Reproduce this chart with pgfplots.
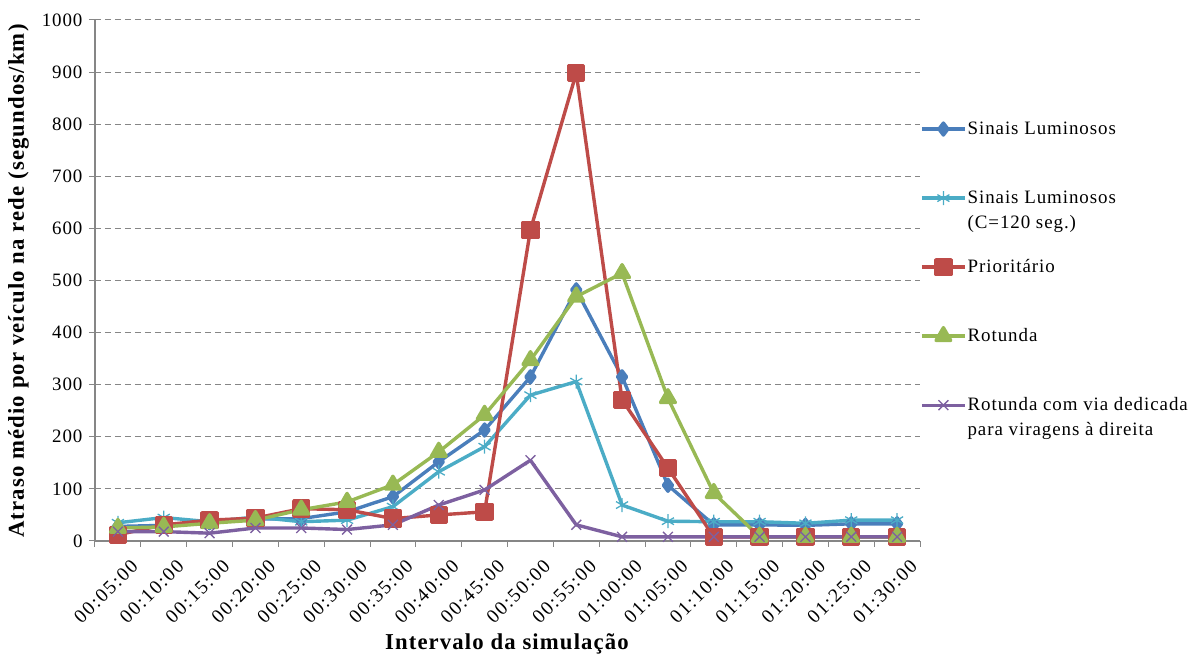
\documentclass[border=0pt]{standalone}
\usepackage{fontspec}
\setmainfont{Liberation Serif}[LetterSpace=5]
\usepackage{pgfplots}
\pgfplotsset{compat=1.18}

\definecolor{cBlue}{HTML}{4A7EBB}
\definecolor{cCyan}{HTML}{4BACC6}
\definecolor{cRed}{HTML}{BE4B48}
\definecolor{cGreen}{HTML}{98B954}
\definecolor{cPurple}{HTML}{7D60A0}
\definecolor{axGray}{HTML}{868686}

% legend entries: two-row boxes of equal height so every entry takes the same slot
\newcommand{\entry}[2]{\begin{tabular}[b]{@{}l@{}}#1\\\strut#2\end{tabular}}

\begin{document}
\begin{tikzpicture}
\begin{axis}[
  scale only axis,
  width=825bp, height=521bp,
  xmin=-0.5, xmax=17.5, ymin=0, ymax=1000,
  ytick={0,100,...,1000},
  xtick={0,...,17},
  xticklabels={00:05:00,00:10:00,00:15:00,00:20:00,00:25:00,00:30:00,00:35:00,00:40:00,00:45:00,00:50:00,00:55:00,01:00:00,01:05:00,01:10:00,01:15:00,01:20:00,01:25:00,01:30:00},
  x tick label style={rotate=45, anchor=north east, font=\fontsize{19.5}{20}\selectfont\addfontfeatures{LetterSpace=9}, xshift=4bp, yshift=-13bp},
  y tick label style={font=\fontsize{19}{20}\selectfont, xshift=-3bp},
  /pgf/number format/assume math mode=true,
  /pgf/number format/1000 sep={},
  major x tick style={draw=none},
  minor xtick={-0.5,0.5,...,17.5},
  minor tick length=6bp, major tick length=6bp,
  tick align=outside,
  tick style={axGray, line width=1bp},
  axis x line*=bottom, axis y line*=left,
  axis line style={axGray, line width=1.5bp, -},
  ymajorgrids,
  grid style={axGray, line width=1bp, dash pattern=on 6bp off 4bp},
  xlabel={\textbf{Intervalo da simulação}},
  ylabel={\textbf{Atraso médio por veículo na rede (segundos/km)}},
  label style={font=\fontsize{22.8}{23}\selectfont},
  xlabel style={yshift=0bp},
  ylabel style={yshift=6bp},
  legend style={at={(1.0,0.8160)}, anchor=north west, draw=none, fill=none,
    inner sep=0pt,
    nodes={inner sep=1bp},
    cells={anchor=north west},
    font=\fontsize{19}{25}\selectfont,
    row sep=23bp,
    /tikz/every odd column/.append style={column sep=0bp}},
  legend image code/.code={%
    \draw[mark repeat=2,mark phase=2] plot coordinates {(2bp,-13bp) (23.5bp,-13bp) (45bp,-13bp)};},
  every axis plot/.append style={line width=3.4bp, line join=round},
]
\addplot[cBlue, mark=diamond*, mark size=6pt] coordinates {
 (0,28) (1,30) (2,35) (3,42) (4,43) (5,56) (6,85) (7,152) (8,213) (9,315)
 (10,482) (11,315) (12,107) (13,31) (14,31) (15,30) (16,33) (17,33)};
\addlegendentry{\entry{Sinais Luminosos}{}}
\addplot[cCyan, mark=asterisk, mark size=7pt, mark options={line width=1.3bp}] coordinates {
 (0,35) (1,45) (2,37) (3,46) (4,37) (5,40) (6,66) (7,133) (8,181) (9,280)
 (10,306) (11,69) (12,38) (13,37) (14,37) (15,34) (16,40) (17,40)};
\addlegendentry{\entry{Sinais Luminosos}{(C=120 seg.)}}
\addplot[cRed, mark=square*, mark size=7.5bp] coordinates {
 (0,12) (1,31) (2,40) (3,44) (4,62) (5,60) (6,43) (7,50) (8,56) (9,597)
 (10,898) (11,271) (12,140) (13,8) (14,8) (15,8) (16,8) (17,8)};
\addlegendentry{\entry{Prioritário}{}}
\addplot[cGreen, mark=triangle*, mark size=8.5bp] coordinates {
 (0,25) (1,27) (2,34) (3,40) (4,60) (5,75) (6,108) (7,171) (8,242) (9,347)
 (10,469) (11,514) (12,274) (13,92) (14,8) (15,8) (16,8) (17,8)};
\addlegendentry{\entry{Rotunda}{}}
\addplot[cPurple, mark=x, mark size=7pt, mark options={line width=1.3bp}] coordinates {
 (0,18) (1,18) (2,15) (3,25) (4,25) (5,22) (6,31) (7,69) (8,98) (9,155)
 (10,31) (11,8) (12,8) (13,8) (14,8) (15,8) (16,8) (17,8)};
\addlegendentry{\entry{Rotunda com via dedicada}{para viragens à direita}}
\end{axis}
% page frame: 1193 x 657 with the plot area placed 95bp from the left and 116bp from the bottom
\path (current axis.south west) ++(-95bp,-116bp) rectangle ++(1193bp,657bp);
\end{tikzpicture}
\end{document}
